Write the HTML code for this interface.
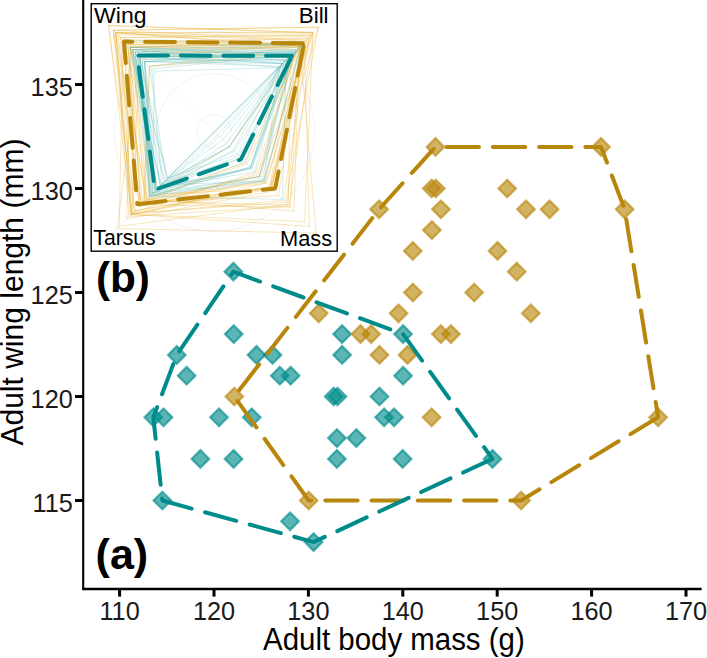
<!DOCTYPE html><html><head><meta charset="utf-8"><style>html,body{margin:0;padding:0;background:#fff;}svg{display:block;}text{font-family:"Liberation Sans",sans-serif;}</style></head><body>
<svg width="707" height="658" viewBox="0 0 707 658">
<rect width="707" height="658" fill="#fff"/>
<path d="M233.35,262.90L242.15,271.70L233.35,280.50L224.55,271.70Z" fill="#008B8B" fill-opacity="0.64" stroke="#008B8B" stroke-opacity="0.64" stroke-width="2.2"/>
<path d="M233.73,325.30L242.53,334.10L233.73,342.90L224.93,334.10Z" fill="#008B8B" fill-opacity="0.64" stroke="#008B8B" stroke-opacity="0.64" stroke-width="2.2"/>
<path d="M342.10,325.30L350.90,334.10L342.10,342.90L333.30,334.10Z" fill="#008B8B" fill-opacity="0.64" stroke="#008B8B" stroke-opacity="0.64" stroke-width="2.2"/>
<path d="M403.08,325.30L411.88,334.10L403.08,342.90L394.28,334.10Z" fill="#008B8B" fill-opacity="0.64" stroke="#008B8B" stroke-opacity="0.64" stroke-width="2.2"/>
<path d="M176.81,346.10L185.61,354.90L176.81,363.70L168.01,354.90Z" fill="#008B8B" fill-opacity="0.64" stroke="#008B8B" stroke-opacity="0.64" stroke-width="2.2"/>
<path d="M256.48,346.10L265.28,354.90L256.48,363.70L247.68,354.90Z" fill="#008B8B" fill-opacity="0.64" stroke="#008B8B" stroke-opacity="0.64" stroke-width="2.2"/>
<path d="M272.53,346.10L281.33,354.90L272.53,363.70L263.73,354.90Z" fill="#008B8B" fill-opacity="0.64" stroke="#008B8B" stroke-opacity="0.64" stroke-width="2.2"/>
<path d="M342.10,346.10L350.90,354.90L342.10,363.70L333.30,354.90Z" fill="#008B8B" fill-opacity="0.64" stroke="#008B8B" stroke-opacity="0.64" stroke-width="2.2"/>
<path d="M186.62,366.90L195.42,375.70L186.62,384.50L177.82,375.70Z" fill="#008B8B" fill-opacity="0.64" stroke="#008B8B" stroke-opacity="0.64" stroke-width="2.2"/>
<path d="M279.80,366.90L288.60,375.70L279.80,384.50L271.00,375.70Z" fill="#008B8B" fill-opacity="0.64" stroke="#008B8B" stroke-opacity="0.64" stroke-width="2.2"/>
<path d="M290.65,366.90L299.45,375.70L290.65,384.50L281.85,375.70Z" fill="#008B8B" fill-opacity="0.64" stroke="#008B8B" stroke-opacity="0.64" stroke-width="2.2"/>
<path d="M403.08,366.90L411.88,375.70L403.08,384.50L394.28,375.70Z" fill="#008B8B" fill-opacity="0.64" stroke="#008B8B" stroke-opacity="0.64" stroke-width="2.2"/>
<path d="M333.70,387.70L342.50,396.50L333.70,405.30L324.90,396.50Z" fill="#008B8B" fill-opacity="0.64" stroke="#008B8B" stroke-opacity="0.64" stroke-width="2.2"/>
<path d="M337.48,387.70L346.28,396.50L337.48,405.30L328.68,396.50Z" fill="#008B8B" fill-opacity="0.64" stroke="#008B8B" stroke-opacity="0.64" stroke-width="2.2"/>
<path d="M379.48,387.70L388.28,396.50L379.48,405.30L370.68,396.50Z" fill="#008B8B" fill-opacity="0.64" stroke="#008B8B" stroke-opacity="0.64" stroke-width="2.2"/>
<path d="M153.30,408.50L162.10,417.30L153.30,426.10L144.50,417.30Z" fill="#008B8B" fill-opacity="0.64" stroke="#008B8B" stroke-opacity="0.64" stroke-width="2.2"/>
<path d="M163.50,408.50L172.30,417.30L163.50,426.10L154.70,417.30Z" fill="#008B8B" fill-opacity="0.64" stroke="#008B8B" stroke-opacity="0.64" stroke-width="2.2"/>
<path d="M219.00,408.50L227.80,417.30L219.00,426.10L210.20,417.30Z" fill="#008B8B" fill-opacity="0.64" stroke="#008B8B" stroke-opacity="0.64" stroke-width="2.2"/>
<path d="M251.76,408.50L260.56,417.30L251.76,426.10L242.96,417.30Z" fill="#008B8B" fill-opacity="0.64" stroke="#008B8B" stroke-opacity="0.64" stroke-width="2.2"/>
<path d="M384.11,408.50L392.91,417.30L384.11,426.10L375.31,417.30Z" fill="#008B8B" fill-opacity="0.64" stroke="#008B8B" stroke-opacity="0.64" stroke-width="2.2"/>
<path d="M394.02,408.50L402.82,417.30L394.02,426.10L385.22,417.30Z" fill="#008B8B" fill-opacity="0.64" stroke="#008B8B" stroke-opacity="0.64" stroke-width="2.2"/>
<path d="M336.91,429.30L345.71,438.10L336.91,446.90L328.11,438.10Z" fill="#008B8B" fill-opacity="0.64" stroke="#008B8B" stroke-opacity="0.64" stroke-width="2.2"/>
<path d="M356.36,429.30L365.16,438.10L356.36,446.90L347.56,438.10Z" fill="#008B8B" fill-opacity="0.64" stroke="#008B8B" stroke-opacity="0.64" stroke-width="2.2"/>
<path d="M200.41,450.10L209.21,458.90L200.41,467.70L191.61,458.90Z" fill="#008B8B" fill-opacity="0.64" stroke="#008B8B" stroke-opacity="0.64" stroke-width="2.2"/>
<path d="M233.54,450.10L242.34,458.90L233.54,467.70L224.74,458.90Z" fill="#008B8B" fill-opacity="0.64" stroke="#008B8B" stroke-opacity="0.64" stroke-width="2.2"/>
<path d="M336.91,450.10L345.71,458.90L336.91,467.70L328.11,458.90Z" fill="#008B8B" fill-opacity="0.64" stroke="#008B8B" stroke-opacity="0.64" stroke-width="2.2"/>
<path d="M402.61,450.10L411.41,458.90L402.61,467.70L393.81,458.90Z" fill="#008B8B" fill-opacity="0.64" stroke="#008B8B" stroke-opacity="0.64" stroke-width="2.2"/>
<path d="M492.48,450.10L501.28,458.90L492.48,467.70L483.68,458.90Z" fill="#008B8B" fill-opacity="0.64" stroke="#008B8B" stroke-opacity="0.64" stroke-width="2.2"/>
<path d="M162.36,491.70L171.16,500.50L162.36,509.30L153.56,500.50Z" fill="#008B8B" fill-opacity="0.64" stroke="#008B8B" stroke-opacity="0.64" stroke-width="2.2"/>
<path d="M290.09,512.50L298.89,521.30L290.09,530.10L281.29,521.30Z" fill="#008B8B" fill-opacity="0.64" stroke="#008B8B" stroke-opacity="0.64" stroke-width="2.2"/>
<path d="M313.59,533.30L322.39,542.10L313.59,550.90L304.79,542.10Z" fill="#008B8B" fill-opacity="0.64" stroke="#008B8B" stroke-opacity="0.64" stroke-width="2.2"/>
<path d="M435.46,138.10L444.26,146.90L435.46,155.70L426.66,146.90Z" fill="#B8860B" fill-opacity="0.64" stroke="#B8860B" stroke-opacity="0.64" stroke-width="2.2"/>
<path d="M601.04,138.10L609.84,146.90L601.04,155.70L592.24,146.90Z" fill="#B8860B" fill-opacity="0.64" stroke="#B8860B" stroke-opacity="0.64" stroke-width="2.2"/>
<path d="M431.69,179.70L440.49,188.50L431.69,197.30L422.89,188.50Z" fill="#B8860B" fill-opacity="0.64" stroke="#B8860B" stroke-opacity="0.64" stroke-width="2.2"/>
<path d="M435.84,179.70L444.64,188.50L435.84,197.30L427.04,188.50Z" fill="#B8860B" fill-opacity="0.64" stroke="#B8860B" stroke-opacity="0.64" stroke-width="2.2"/>
<path d="M507.21,179.70L516.01,188.50L507.21,197.30L498.41,188.50Z" fill="#B8860B" fill-opacity="0.64" stroke="#B8860B" stroke-opacity="0.64" stroke-width="2.2"/>
<path d="M379.11,200.50L387.91,209.30L379.11,218.10L370.31,209.30Z" fill="#B8860B" fill-opacity="0.64" stroke="#B8860B" stroke-opacity="0.64" stroke-width="2.2"/>
<path d="M440.94,200.50L449.74,209.30L440.94,218.10L432.14,209.30Z" fill="#B8860B" fill-opacity="0.64" stroke="#B8860B" stroke-opacity="0.64" stroke-width="2.2"/>
<path d="M525.99,200.50L534.79,209.30L525.99,218.10L517.19,209.30Z" fill="#B8860B" fill-opacity="0.64" stroke="#B8860B" stroke-opacity="0.64" stroke-width="2.2"/>
<path d="M549.59,200.50L558.39,209.30L549.59,218.10L540.79,209.30Z" fill="#B8860B" fill-opacity="0.64" stroke="#B8860B" stroke-opacity="0.64" stroke-width="2.2"/>
<path d="M624.64,200.50L633.44,209.30L624.64,218.10L615.84,209.30Z" fill="#B8860B" fill-opacity="0.64" stroke="#B8860B" stroke-opacity="0.64" stroke-width="2.2"/>
<path d="M431.88,221.30L440.68,230.10L431.88,238.90L423.08,230.10Z" fill="#B8860B" fill-opacity="0.64" stroke="#B8860B" stroke-opacity="0.64" stroke-width="2.2"/>
<path d="M412.81,242.10L421.61,250.90L412.81,259.70L404.01,250.90Z" fill="#B8860B" fill-opacity="0.64" stroke="#B8860B" stroke-opacity="0.64" stroke-width="2.2"/>
<path d="M497.48,242.10L506.28,250.90L497.48,259.70L488.68,250.90Z" fill="#B8860B" fill-opacity="0.64" stroke="#B8860B" stroke-opacity="0.64" stroke-width="2.2"/>
<path d="M516.74,262.90L525.54,271.70L516.74,280.50L507.94,271.70Z" fill="#B8860B" fill-opacity="0.64" stroke="#B8860B" stroke-opacity="0.64" stroke-width="2.2"/>
<path d="M412.90,283.70L421.70,292.50L412.90,301.30L404.10,292.50Z" fill="#B8860B" fill-opacity="0.64" stroke="#B8860B" stroke-opacity="0.64" stroke-width="2.2"/>
<path d="M474.17,283.70L482.97,292.50L474.17,301.30L465.37,292.50Z" fill="#B8860B" fill-opacity="0.64" stroke="#B8860B" stroke-opacity="0.64" stroke-width="2.2"/>
<path d="M318.69,304.50L327.49,313.30L318.69,322.10L309.89,313.30Z" fill="#B8860B" fill-opacity="0.64" stroke="#B8860B" stroke-opacity="0.64" stroke-width="2.2"/>
<path d="M398.55,304.50L407.35,313.30L398.55,322.10L389.75,313.30Z" fill="#B8860B" fill-opacity="0.64" stroke="#B8860B" stroke-opacity="0.64" stroke-width="2.2"/>
<path d="M530.81,304.50L539.61,313.30L530.81,322.10L522.01,313.30Z" fill="#B8860B" fill-opacity="0.64" stroke="#B8860B" stroke-opacity="0.64" stroke-width="2.2"/>
<path d="M360.51,325.30L369.31,334.10L360.51,342.90L351.71,334.10Z" fill="#B8860B" fill-opacity="0.64" stroke="#B8860B" stroke-opacity="0.64" stroke-width="2.2"/>
<path d="M371.18,325.30L379.98,334.10L371.18,342.90L362.38,334.10Z" fill="#B8860B" fill-opacity="0.64" stroke="#B8860B" stroke-opacity="0.64" stroke-width="2.2"/>
<path d="M440.84,325.30L449.64,334.10L440.84,342.90L432.04,334.10Z" fill="#B8860B" fill-opacity="0.64" stroke="#B8860B" stroke-opacity="0.64" stroke-width="2.2"/>
<path d="M450.94,325.30L459.74,334.10L450.94,342.90L442.14,334.10Z" fill="#B8860B" fill-opacity="0.64" stroke="#B8860B" stroke-opacity="0.64" stroke-width="2.2"/>
<path d="M379.48,346.10L388.28,354.90L379.48,363.70L370.68,354.90Z" fill="#B8860B" fill-opacity="0.64" stroke="#B8860B" stroke-opacity="0.64" stroke-width="2.2"/>
<path d="M407.52,346.10L416.32,354.90L407.52,363.70L398.72,354.90Z" fill="#B8860B" fill-opacity="0.64" stroke="#B8860B" stroke-opacity="0.64" stroke-width="2.2"/>
<path d="M234.30,387.70L243.10,396.50L234.30,405.30L225.50,396.50Z" fill="#B8860B" fill-opacity="0.64" stroke="#B8860B" stroke-opacity="0.64" stroke-width="2.2"/>
<path d="M431.59,408.50L440.39,417.30L431.59,426.10L422.79,417.30Z" fill="#B8860B" fill-opacity="0.64" stroke="#B8860B" stroke-opacity="0.64" stroke-width="2.2"/>
<path d="M658.15,408.50L666.95,417.30L658.15,426.10L649.35,417.30Z" fill="#B8860B" fill-opacity="0.64" stroke="#B8860B" stroke-opacity="0.64" stroke-width="2.2"/>
<path d="M308.68,491.70L317.48,500.50L308.68,509.30L299.88,500.50Z" fill="#B8860B" fill-opacity="0.64" stroke="#B8860B" stroke-opacity="0.64" stroke-width="2.2"/>
<path d="M521.08,491.70L529.88,500.50L521.08,509.30L512.28,500.50Z" fill="#B8860B" fill-opacity="0.64" stroke="#B8860B" stroke-opacity="0.64" stroke-width="2.2"/>
<path d="M658.15,417.30 L521.08,500.50 L308.68,500.50 L234.30,396.50 L379.11,209.30 L435.46,146.90 L601.04,146.90 L624.64,209.30 Z" fill="none" stroke="#B8860B" stroke-width="4.0" stroke-dasharray="32.375 13.875" stroke-dashoffset="0" stroke-linecap="round" stroke-linejoin="round"/>
<path d="M492.48,458.90 L313.59,542.10 L162.36,500.50 L153.30,417.30 L176.81,354.90 L233.35,271.70 L403.08,334.10 Z" fill="none" stroke="#008B8B" stroke-width="4.0" stroke-dasharray="32.375 13.875" stroke-dashoffset="0" stroke-linecap="round" stroke-linejoin="round"/>
<line x1="83.2" y1="0" x2="83.2" y2="590.0" stroke="#000" stroke-width="2.1"/>
<line x1="82.2" y1="588.9" x2="701.6" y2="588.9" stroke="#000" stroke-width="2.5"/>
<line x1="119.60" y1="588.9" x2="119.60" y2="596.6" stroke="#000" stroke-width="3.0"/>
<text x="119.60" y="620.0" font-size="25.3" text-anchor="middle" fill="#1a1a1a">110</text>
<line x1="214.00" y1="588.9" x2="214.00" y2="596.6" stroke="#000" stroke-width="3.0"/>
<text x="214.00" y="620.0" font-size="25.3" text-anchor="middle" fill="#1a1a1a">120</text>
<line x1="308.40" y1="588.9" x2="308.40" y2="596.6" stroke="#000" stroke-width="3.0"/>
<text x="308.40" y="620.0" font-size="25.3" text-anchor="middle" fill="#1a1a1a">130</text>
<line x1="402.80" y1="588.9" x2="402.80" y2="596.6" stroke="#000" stroke-width="3.0"/>
<text x="402.80" y="620.0" font-size="25.3" text-anchor="middle" fill="#1a1a1a">140</text>
<line x1="497.20" y1="588.9" x2="497.20" y2="596.6" stroke="#000" stroke-width="3.0"/>
<text x="497.20" y="620.0" font-size="25.3" text-anchor="middle" fill="#1a1a1a">150</text>
<line x1="591.60" y1="588.9" x2="591.60" y2="596.6" stroke="#000" stroke-width="3.0"/>
<text x="591.60" y="620.0" font-size="25.3" text-anchor="middle" fill="#1a1a1a">160</text>
<line x1="686.00" y1="588.9" x2="686.00" y2="596.6" stroke="#000" stroke-width="3.0"/>
<text x="686.00" y="620.0" font-size="25.3" text-anchor="middle" fill="#1a1a1a">170</text>
<line x1="75" y1="500.50" x2="83.2" y2="500.50" stroke="#000" stroke-width="3.0"/>
<text x="72.8" y="511.50" font-size="25.3" text-anchor="end" fill="#1a1a1a">115</text>
<line x1="75" y1="396.50" x2="83.2" y2="396.50" stroke="#000" stroke-width="3.0"/>
<text x="72.8" y="407.50" font-size="25.3" text-anchor="end" fill="#1a1a1a">120</text>
<line x1="75" y1="292.50" x2="83.2" y2="292.50" stroke="#000" stroke-width="3.0"/>
<text x="72.8" y="303.50" font-size="25.3" text-anchor="end" fill="#1a1a1a">125</text>
<line x1="75" y1="188.50" x2="83.2" y2="188.50" stroke="#000" stroke-width="3.0"/>
<text x="72.8" y="199.50" font-size="25.3" text-anchor="end" fill="#1a1a1a">130</text>
<line x1="75" y1="84.50" x2="83.2" y2="84.50" stroke="#000" stroke-width="3.0"/>
<text x="72.8" y="95.50" font-size="25.3" text-anchor="end" fill="#1a1a1a">135</text>
<text x="263.03" y="649.70" font-size="30.8" textLength="261.72" lengthAdjust="spacingAndGlyphs" fill="#000">Adult body mass (g)</text>
<g transform="translate(23.2,445.5) rotate(-90)"><text x="-0.08" y="0.00" font-size="30.8" textLength="306.99" lengthAdjust="spacingAndGlyphs" fill="#000">Adult wing length (mm)</text></g>
<text x="95.89" y="292.40" font-size="42.3" font-weight="bold" textLength="54.00" lengthAdjust="spacingAndGlyphs" fill="#000">(b)</text>
<text x="95.54" y="569.30" font-size="42.3" font-weight="bold" textLength="52.70" lengthAdjust="spacingAndGlyphs" fill="#000">(a)</text>
<rect x="91.2" y="3.7" width="246" height="247.5" fill="#fff" stroke="#000" stroke-width="1.4"/>
<circle cx="214.3" cy="131.3" r="17" fill="none" stroke="#f3f3f3" stroke-width="1"/>
<circle cx="214.3" cy="131.3" r="58" fill="none" stroke="#f3f3f3" stroke-width="1"/>
<circle cx="214.3" cy="131.3" r="100" fill="none" stroke="#f3f3f3" stroke-width="1"/>
<line x1="214.3" y1="131.3" x2="99.30" y2="16.30" stroke="#f3f3f3" stroke-width="1"/>
<line x1="214.3" y1="131.3" x2="329.30" y2="16.30" stroke="#f3f3f3" stroke-width="1"/>
<line x1="214.3" y1="131.3" x2="329.30" y2="246.30" stroke="#f3f3f3" stroke-width="1"/>
<line x1="214.3" y1="131.3" x2="99.30" y2="246.30" stroke="#f3f3f3" stroke-width="1"/>
<path d="M108.52,25.52 L312.85,32.75 L270.72,187.72 L134.46,211.14 Z" fill="none" stroke="#E8AC2A" stroke-opacity="0.45" stroke-width="0.7"/>
<path d="M108.52,25.52 L313.04,32.56 L304.54,221.54 L131.33,214.27 Z" fill="none" stroke="#E8AC2A" stroke-opacity="0.45" stroke-width="0.7"/>
<path d="M113.33,30.33 L305.68,39.92 L269.95,186.95 L140.85,204.75 Z" fill="none" stroke="#E8AC2A" stroke-opacity="0.45" stroke-width="0.7"/>
<path d="M113.33,30.33 L318.67,26.93 L270.80,187.80 L135.18,210.42 Z" fill="none" stroke="#E8AC2A" stroke-opacity="0.45" stroke-width="0.7"/>
<path d="M113.33,30.33 L318.20,27.40 L285.38,202.38 L132.30,213.30 Z" fill="none" stroke="#E8AC2A" stroke-opacity="0.45" stroke-width="0.7"/>
<path d="M115.73,32.73 L312.67,32.93 L259.21,176.21 L140.68,204.92 Z" fill="none" stroke="#E8AC2A" stroke-opacity="0.45" stroke-width="0.7"/>
<path d="M115.73,32.73 L299.55,46.05 L271.84,188.84 L131.21,214.39 Z" fill="none" stroke="#E8AC2A" stroke-opacity="0.45" stroke-width="0.7"/>
<path d="M115.73,32.73 L313.38,32.22 L289.21,206.21 L129.02,216.58 Z" fill="none" stroke="#E8AC2A" stroke-opacity="0.45" stroke-width="0.7"/>
<path d="M115.73,32.73 L299.39,46.21 L294.03,211.03 L146.61,198.99 Z" fill="none" stroke="#E8AC2A" stroke-opacity="0.45" stroke-width="0.7"/>
<path d="M115.73,32.73 L304.49,41.11 L309.36,226.36 L131.18,214.42 Z" fill="none" stroke="#E8AC2A" stroke-opacity="0.45" stroke-width="0.7"/>
<path d="M118.13,35.13 L310.66,34.94 L269.99,186.99 L139.41,206.19 Z" fill="none" stroke="#E8AC2A" stroke-opacity="0.45" stroke-width="0.7"/>
<path d="M120.54,37.54 L310.59,35.01 L266.09,183.09 L145.64,199.96 Z" fill="none" stroke="#E8AC2A" stroke-opacity="0.45" stroke-width="0.7"/>
<path d="M120.54,37.54 L309.23,36.37 L283.39,200.39 L131.66,213.94 Z" fill="none" stroke="#E8AC2A" stroke-opacity="0.45" stroke-width="0.7"/>
<path d="M122.94,39.94 L301.62,43.98 L287.32,204.32 L119.25,226.35 Z" fill="none" stroke="#E8AC2A" stroke-opacity="0.45" stroke-width="0.7"/>
<path d="M125.35,42.35 L307.93,37.67 L266.11,183.11 L130.03,215.57 Z" fill="none" stroke="#E8AC2A" stroke-opacity="0.45" stroke-width="0.7"/>
<path d="M125.35,42.35 L300.44,45.16 L278.63,195.63 L142.71,202.89 Z" fill="none" stroke="#E8AC2A" stroke-opacity="0.45" stroke-width="0.7"/>
<path d="M127.75,44.75 L300.75,44.85 L246.87,163.87 L146.86,198.74 Z" fill="none" stroke="#E8AC2A" stroke-opacity="0.45" stroke-width="0.7"/>
<path d="M127.75,44.75 L306.97,38.63 L263.18,180.18 L138.96,206.64 Z" fill="none" stroke="#E8AC2A" stroke-opacity="0.45" stroke-width="0.7"/>
<path d="M127.75,44.75 L300.10,45.50 L290.20,207.20 L141.08,204.52 Z" fill="none" stroke="#E8AC2A" stroke-opacity="0.45" stroke-width="0.7"/>
<path d="M130.15,47.15 L298.19,47.41 L255.41,172.41 L133.04,212.56 Z" fill="none" stroke="#E8AC2A" stroke-opacity="0.45" stroke-width="0.7"/>
<path d="M130.15,47.15 L296.36,49.24 L257.59,174.59 L140.67,204.93 Z" fill="none" stroke="#E8AC2A" stroke-opacity="0.45" stroke-width="0.7"/>
<path d="M130.15,47.15 L304.21,41.39 L271.82,188.82 L151.12,194.48 Z" fill="none" stroke="#E8AC2A" stroke-opacity="0.45" stroke-width="0.7"/>
<path d="M130.15,47.15 L301.81,43.79 L273.88,190.88 L126.77,218.83 Z" fill="none" stroke="#E8AC2A" stroke-opacity="0.45" stroke-width="0.7"/>
<path d="M132.56,49.56 L290.67,54.93 L259.29,176.29 L144.96,200.64 Z" fill="none" stroke="#E8AC2A" stroke-opacity="0.45" stroke-width="0.7"/>
<path d="M132.56,49.56 L299.38,46.22 L265.01,182.01 L147.45,198.15 Z" fill="none" stroke="#E8AC2A" stroke-opacity="0.45" stroke-width="0.7"/>
<path d="M137.37,54.37 L300.34,45.26 L229.63,146.63 L151.66,193.94 Z" fill="none" stroke="#E8AC2A" stroke-opacity="0.45" stroke-width="0.7"/>
<path d="M139.77,56.77 L290.67,54.93 L269.93,186.93 L132.02,213.58 Z" fill="none" stroke="#E8AC2A" stroke-opacity="0.45" stroke-width="0.7"/>
<path d="M139.77,56.77 L299.99,45.61 L316.21,233.21 L117.13,228.47 Z" fill="none" stroke="#E8AC2A" stroke-opacity="0.45" stroke-width="0.7"/>
<path d="M149.39,66.39 L299.13,46.47 L244.82,161.82 L143.50,202.10 Z" fill="none" stroke="#E8AC2A" stroke-opacity="0.45" stroke-width="0.7"/>
<path d="M149.39,66.39 L290.72,54.88 L288.21,205.21 L144.58,201.02 Z" fill="none" stroke="#E8AC2A" stroke-opacity="0.45" stroke-width="0.7"/>
<path d="M122.94,39.94 L301.43,44.17 L229.44,146.44 L161.46,184.14 Z" fill="none" stroke="#3FB0B0" stroke-opacity="0.32" stroke-width="0.7"/>
<path d="M130.15,47.15 L291.78,53.82 L229.51,146.51 L164.21,181.39 Z" fill="none" stroke="#3FB0B0" stroke-opacity="0.32" stroke-width="0.7"/>
<path d="M130.15,47.15 L288.87,56.73 L251.65,168.65 L156.67,188.93 Z" fill="none" stroke="#3FB0B0" stroke-opacity="0.32" stroke-width="0.7"/>
<path d="M130.15,47.15 L301.64,43.96 L264.11,181.11 L160.55,185.05 Z" fill="none" stroke="#3FB0B0" stroke-opacity="0.32" stroke-width="0.7"/>
<path d="M132.56,49.56 L284.90,60.70 L217.89,134.89 L160.16,185.44 Z" fill="none" stroke="#3FB0B0" stroke-opacity="0.32" stroke-width="0.7"/>
<path d="M132.56,49.56 L301.31,44.29 L234.16,151.16 L155.46,190.14 Z" fill="none" stroke="#3FB0B0" stroke-opacity="0.32" stroke-width="0.7"/>
<path d="M132.56,49.56 L282.39,63.21 L237.44,154.44 L167.63,177.97 Z" fill="none" stroke="#3FB0B0" stroke-opacity="0.32" stroke-width="0.7"/>
<path d="M132.56,49.56 L295.16,50.44 L251.65,168.65 L157.54,188.06 Z" fill="none" stroke="#3FB0B0" stroke-opacity="0.32" stroke-width="0.7"/>
<path d="M134.96,51.96 L285.61,59.99 L219.89,136.89 L156.62,188.98 Z" fill="none" stroke="#3FB0B0" stroke-opacity="0.32" stroke-width="0.7"/>
<path d="M134.96,51.96 L298.17,47.43 L238.92,155.92 L156.30,189.30 Z" fill="none" stroke="#3FB0B0" stroke-opacity="0.32" stroke-width="0.7"/>
<path d="M134.96,51.96 L293.33,52.27 L241.14,158.14 L154.68,190.92 Z" fill="none" stroke="#3FB0B0" stroke-opacity="0.32" stroke-width="0.7"/>
<path d="M134.96,51.96 L300.96,44.64 L264.11,181.11 L149.30,196.30 Z" fill="none" stroke="#3FB0B0" stroke-opacity="0.32" stroke-width="0.7"/>
<path d="M137.37,54.37 L293.67,51.93 L249.93,166.93 L152.44,193.16 Z" fill="none" stroke="#3FB0B0" stroke-opacity="0.32" stroke-width="0.7"/>
<path d="M137.37,54.37 L281.87,63.73 L250.71,167.71 L149.17,196.43 Z" fill="none" stroke="#3FB0B0" stroke-opacity="0.32" stroke-width="0.7"/>
<path d="M137.37,54.37 L296.14,49.46 L259.29,176.29 L150.64,194.96 Z" fill="none" stroke="#3FB0B0" stroke-opacity="0.32" stroke-width="0.7"/>
<path d="M139.77,56.77 L278.37,67.23 L214.30,131.30 L164.58,181.02 Z" fill="none" stroke="#3FB0B0" stroke-opacity="0.32" stroke-width="0.7"/>
<path d="M139.77,56.77 L294.30,51.30 L215.17,132.17 L167.63,177.97 Z" fill="none" stroke="#3FB0B0" stroke-opacity="0.32" stroke-width="0.7"/>
<path d="M139.77,56.77 L288.50,57.10 L226.51,143.51 L155.12,190.48 Z" fill="none" stroke="#3FB0B0" stroke-opacity="0.32" stroke-width="0.7"/>
<path d="M139.77,56.77 L282.12,63.48 L233.20,150.20 L151.28,194.32 Z" fill="none" stroke="#3FB0B0" stroke-opacity="0.32" stroke-width="0.7"/>
<path d="M139.77,56.77 L292.66,52.94 L260.23,177.23 L153.34,192.26 Z" fill="none" stroke="#3FB0B0" stroke-opacity="0.32" stroke-width="0.7"/>
<path d="M139.77,56.77 L291.37,54.23 L262.26,179.26 L149.54,196.06 Z" fill="none" stroke="#3FB0B0" stroke-opacity="0.32" stroke-width="0.7"/>
<path d="M142.18,59.18 L289.02,56.58 L250.59,167.59 L149.77,195.83 Z" fill="none" stroke="#3FB0B0" stroke-opacity="0.32" stroke-width="0.7"/>
<path d="M142.18,59.18 L284.59,61.01 L254.56,171.56 L155.60,190.00 Z" fill="none" stroke="#3FB0B0" stroke-opacity="0.32" stroke-width="0.7"/>
<path d="M144.58,61.58 L293.02,52.58 L222.71,139.71 L160.09,185.51 Z" fill="none" stroke="#3FB0B0" stroke-opacity="0.32" stroke-width="0.7"/>
<path d="M144.58,61.58 L282.15,63.45 L229.48,146.48 L154.84,190.76 Z" fill="none" stroke="#3FB0B0" stroke-opacity="0.32" stroke-width="0.7"/>
<path d="M144.58,61.58 L295.42,50.18 L250.59,167.59 L156.52,189.08 Z" fill="none" stroke="#3FB0B0" stroke-opacity="0.32" stroke-width="0.7"/>
<path d="M144.58,61.58 L279.33,66.27 L264.01,181.01 L152.52,193.08 Z" fill="none" stroke="#3FB0B0" stroke-opacity="0.32" stroke-width="0.7"/>
<path d="M144.58,61.58 L286.29,59.31 L282.37,199.37 L149.54,196.06 Z" fill="none" stroke="#3FB0B0" stroke-opacity="0.32" stroke-width="0.7"/>
<path d="M149.39,66.39 L292.67,52.93 L214.94,131.94 L166.12,179.48 Z" fill="none" stroke="#3FB0B0" stroke-opacity="0.32" stroke-width="0.7"/>
<path d="M151.79,68.79 L290.66,54.94 L241.03,158.03 L161.93,183.67 Z" fill="none" stroke="#3FB0B0" stroke-opacity="0.32" stroke-width="0.7"/>
<path d="M154.20,71.20 L277.87,67.73 L245.83,162.83 L152.90,192.70 Z" fill="none" stroke="#3FB0B0" stroke-opacity="0.32" stroke-width="0.7"/>
<path d="M304.20,43.20 L275.20,188.40 L137.30,204.20 L124.00,41.60 Z" fill="none" stroke="#B8860B" stroke-width="4.0" stroke-dasharray="29.8 12.75" stroke-dashoffset="-3.1" stroke-linecap="round" stroke-linejoin="round"/>
<path d="M292.00,55.80 L240.90,159.40 L154.90,189.80 L137.30,55.50 Z" fill="none" stroke="#008B8B" stroke-width="4.0" stroke-dasharray="29.8 12.75" stroke-dashoffset="-2.75" stroke-linecap="round" stroke-linejoin="round"/>
<text x="94.08" y="22.80" font-size="21.4" textLength="52.58" lengthAdjust="spacingAndGlyphs" fill="#000">Wing</text>
<text x="298.76" y="22.90" font-size="21.4" textLength="29.82" lengthAdjust="spacingAndGlyphs" fill="#000">Bill</text>
<text x="93.32" y="244.60" font-size="21.4" textLength="62.32" lengthAdjust="spacingAndGlyphs" fill="#000">Tarsus</text>
<text x="280.10" y="246.00" font-size="21.4" textLength="52.04" lengthAdjust="spacingAndGlyphs" fill="#000">Mass</text>
</svg></body></html>
